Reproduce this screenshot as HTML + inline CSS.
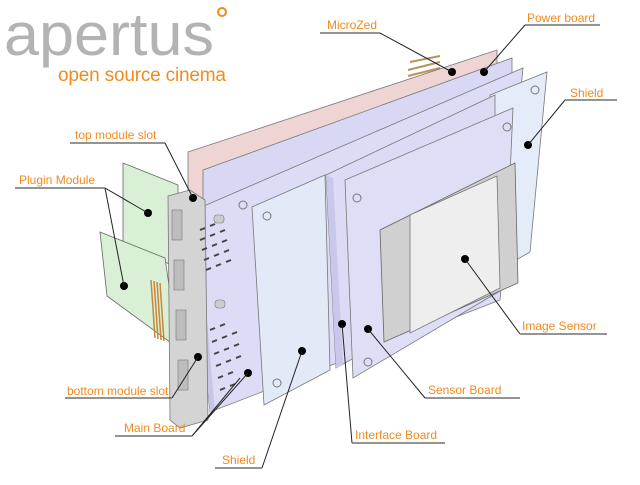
<!DOCTYPE html>
<html><head><meta charset="utf-8"><style>
html,body{margin:0;padding:0;background:#fff;width:640px;height:485px;overflow:hidden}
svg{display:block}
.l{font-family:"Liberation Sans",sans-serif;font-size:12px;fill:#f28a1e}
.u{stroke:#555;stroke-width:1.2;fill:none}
.k{stroke:#222;stroke-width:1;fill:none}
</style></head><body>
<svg width="640" height="485" viewBox="0 0 640 485">
<text x="4" y="55" font-family="Liberation Sans,sans-serif" font-size="60" fill="#b3b3b3" textLength="210" lengthAdjust="spacingAndGlyphs">apertus</text>
<circle cx="222" cy="12" r="4" fill="none" stroke="#f28a1e" stroke-width="2"/>
<text x="58" y="81" font-family="Liberation Sans,sans-serif" font-size="19" fill="#f28a1e" textLength="168">open source cinema</text>

<!-- plugin modules -->
<polygon points="123,163 178,185 178,268 123,243" fill="#d9f0d6" stroke="#666" stroke-width="0.8"/>
<polygon points="100,232 165,258 178,348 107,296" fill="#d9f0d6" stroke="#666" stroke-width="0.8"/>
<g stroke="#c8873a" stroke-width="1.5">
<line x1="151" y1="280" x2="155" y2="338"/><line x1="154" y1="281" x2="158" y2="339"/><line x1="157" y1="282" x2="161" y2="340"/><line x1="160" y1="283" x2="164" y2="341"/>
</g>
<!-- pins -->
<g stroke="#b8935a" stroke-width="2"><line x1="408" y1="70" x2="440" y2="62"/><line x1="408" y1="76" x2="440" y2="68"/><line x1="410" y1="62" x2="440" y2="56"/></g>
<!-- pink microzed -->
<polygon points="188,152 497,50 497,110 188,230" fill="#efd4d4" stroke="#777" stroke-width="0.8"/>
<!-- power board -->
<polygon points="203,170 512,58 512,200 203,320" fill="#d9d8f4" stroke="#777" stroke-width="0.8"/>
<!-- main board -->
<polygon points="190,212 523,68 500,300 210,412" fill="#dddcf6" stroke="#777" stroke-width="0.8"/>
<polygon points="190,212 198,216 215,412 210,412" fill="#c8c6e8"/>
<!-- slot rails -->
<polygon points="168,196 190,190 205,200 208,420 180,428 170,420" fill="#d4d4d4" stroke="#777" stroke-width="0.8"/>
<g fill="#bdbdbd" stroke="#777" stroke-width="0.6"><rect x="172" y="210" width="10" height="30"/><rect x="174" y="260" width="10" height="30"/><rect x="176" y="310" width="10" height="30"/><rect x="178" y="360" width="10" height="30"/></g>
<!-- vent holes -->
<g stroke="#444" stroke-width="2">
<line x1="200" y1="230" x2="205" y2="228"/><line x1="210" y1="226" x2="215" y2="224"/><line x1="200" y1="240" x2="205" y2="238"/><line x1="210" y1="236" x2="215" y2="234"/><line x1="220" y1="232" x2="225" y2="230"/><line x1="202" y1="250" x2="207" y2="248"/><line x1="212" y1="246" x2="217" y2="244"/><line x1="222" y1="242" x2="227" y2="240"/><line x1="204" y1="260" x2="209" y2="258"/><line x1="214" y1="256" x2="219" y2="254"/><line x1="224" y1="252" x2="229" y2="250"/><line x1="206" y1="270" x2="211" y2="268"/><line x1="216" y1="266" x2="221" y2="264"/><line x1="226" y1="262" x2="231" y2="260"/>
<line x1="210" y1="330" x2="215" y2="328"/><line x1="220" y1="326" x2="225" y2="324"/><line x1="212" y1="342" x2="217" y2="340"/><line x1="222" y1="338" x2="227" y2="336"/><line x1="232" y1="334" x2="237" y2="332"/><line x1="214" y1="354" x2="219" y2="352"/><line x1="224" y1="350" x2="229" y2="348"/><line x1="234" y1="346" x2="239" y2="344"/><line x1="216" y1="366" x2="221" y2="364"/><line x1="226" y1="362" x2="231" y2="360"/><line x1="236" y1="358" x2="241" y2="356"/><line x1="218" y1="378" x2="223" y2="376"/><line x1="228" y1="374" x2="233" y2="372"/><line x1="220" y1="390" x2="225" y2="388"/><line x1="230" y1="386" x2="235" y2="384"/>
</g>
<rect x="214" y="215" width="10" height="8" rx="3" fill="#ccc" stroke="#777" stroke-width="0.6"/>
<rect x="215" y="300" width="10" height="8" rx="3" fill="#ccc" stroke="#777" stroke-width="0.6"/>
<!-- right shield -->
<polygon points="490,95 547,72 530,252 495,272" fill="#e4ecf9" stroke="#777" stroke-width="0.8"/>
<circle cx="535" cy="90" r="4" fill="none" stroke="#777"/>
<!-- interface board -->
<polygon points="326,175 495,95 495,280 336,368" fill="#dcdbf5" stroke="#777" stroke-width="0.8"/>
<polygon points="326,175 333,178 343,365 336,368" fill="#c9c7ea"/>
<!-- sensor board -->
<polygon points="345,180 513,108 505,288 353,378" fill="#dfdef7" stroke="#777" stroke-width="0.8"/>
<circle cx="357" cy="198" r="4" fill="none" stroke="#777"/><circle cx="507" cy="127" r="4" fill="none" stroke="#777"/><circle cx="368" cy="362" r="4" fill="none" stroke="#777"/><circle cx="495" cy="275" r="4" fill="none" stroke="#777"/>
<!-- image sensor -->
<polygon points="380,230 515,163 518,283 384,342" fill="#d0d0d0" stroke="#666" stroke-width="0.8"/>
<polygon points="410,215 497,176 500,288 410,333" fill="#eeeeee" stroke="#777" stroke-width="0.8"/>
<!-- front shield -->
<polygon points="252,207 325,175 330,370 264,405" fill="#e2eaf8" stroke="#777" stroke-width="0.8"/>
<circle cx="267" cy="216" r="4" fill="none" stroke="#777"/><circle cx="277" cy="383" r="4" fill="none" stroke="#777"/>
<circle cx="243" cy="205" r="4" fill="none" stroke="#777"/>

<!-- dots -->
<g fill="#000">
<circle cx="193" cy="198" r="4"/><circle cx="148" cy="213" r="4"/><circle cx="124" cy="286" r="4"/><circle cx="452" cy="72" r="4"/><circle cx="484" cy="72" r="4"/><circle cx="528" cy="145" r="4"/><circle cx="465" cy="259" r="4"/><circle cx="368" cy="329" r="4"/><circle cx="342" cy="324" r="4"/><circle cx="302" cy="351" r="4"/><circle cx="248" cy="373" r="4"/><circle cx="198" cy="357" r="4"/>
</g>
<!-- leader lines -->
<path class="k" d="M165,143 L193,198 M105,188 L148,213 M105,188 L124,286 M380,33 L452,72 M525,25 L484,72 M565,100 L528,145 M520,334 L465,259 M425,398 L368,329 M352,443 L342,324 M262,468 L302,351 M192,436 L248,373 M192,436 L240,378 M172,398 L198,357"/>
<!-- underlines -->
<path class="u" d="M70,143 H165 M15,188 H105 M320,33 H380 M525,25 H600 M565,100 H617 M520,334 H607 M425,398 H520 M352,443 H445 M215,468 H262 M115,436 H192 M65,398 H172"/>
<!-- labels -->
<text class="l" x="75" y="139">top module slot</text>
<text class="l" x="19" y="184">Plugin Module</text>
<text class="l" x="327" y="29">MicroZed</text>
<text class="l" x="527" y="22">Power board</text>
<text class="l" x="570" y="97">Shield</text>
<text class="l" x="522" y="330">Image Sensor</text>
<text class="l" x="428" y="394">Sensor Board</text>
<text class="l" x="355" y="439">Interface Board</text>
<text class="l" x="222" y="464">Shield</text>
<text class="l" x="124" y="432">Main Board</text>
<text class="l" x="67" y="395">bottom module slot</text>
</svg>
</body></html>
